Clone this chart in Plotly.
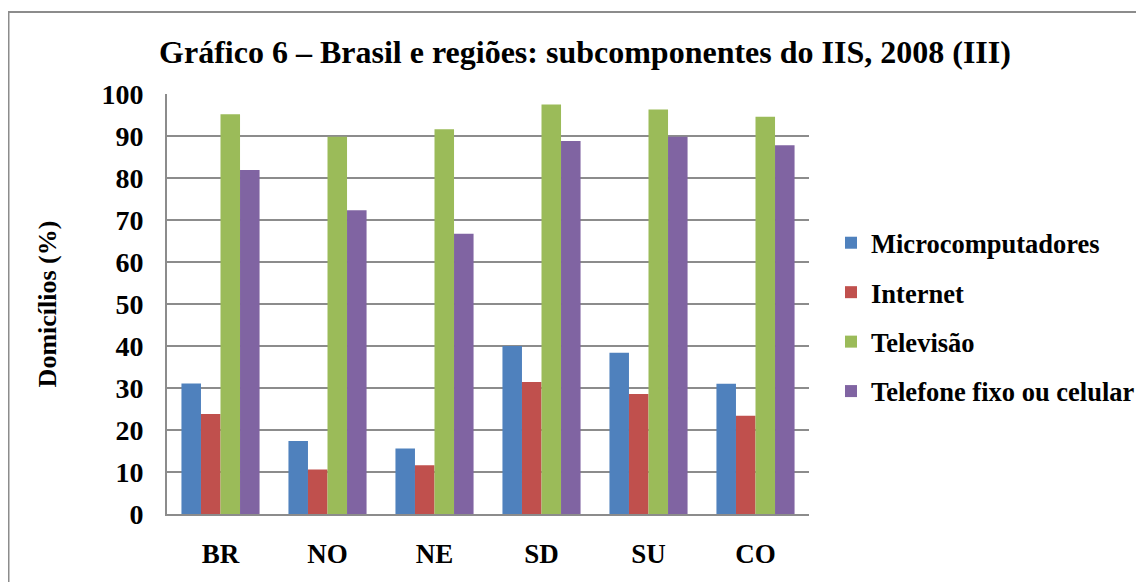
import plotly.graph_objects as go

categories = ["BR", "NO", "NE", "SD", "SU", "CO"]
microcomputadores = [31.1, 17.4, 15.6, 40.0, 38.4, 31.0]
internet = [23.8, 10.6, 11.6, 31.4, 28.6, 23.4]
televisao = [95.2, 89.8, 91.6, 97.5, 96.3, 94.6]
telefone = [81.9, 72.3, 66.7, 88.8, 89.8, 87.8]

series_names = ["Microcomputadores", "Internet", "Televisão", "Telefone fixo ou celular"]
series_values = [microcomputadores, internet, televisao, telefone]
colors = ["#4F81BD", "#C0504D", "#9BBB59", "#8064A2"]

FF = "Liberation Serif"

# page body has an 8px default margin; work in screen coordinates and shift
O = 8
W, H = 1144 - O, 582 - O
L, T = 167 - O, 94 - O
plot_right, plot_bottom = 809 - O, 514 - O
R, B = W - plot_right, H - plot_bottom
pw = W - L - R
ph = H - T - B

def px_x(sx):
    return (sx - O - L) / pw

def px_y(sy):
    return (plot_bottom - (sy - O)) / ph

def cx(sx):
    return (sx - O) / W

def cy(sy):
    return 1 - (sy - O) / H

fig = go.Figure()
for name, vals, col in zip(series_names, series_values, colors):
    fig.add_trace(go.Bar(x=categories, y=vals, name="<b>" + name + "</b>", marker_color=col,
                         marker_line_width=0, legendgroup=name))

fig.update_layout(
    width=W, height=H,
    margin=dict(l=L, r=R, t=T, b=B, autoexpand=False),
    paper_bgcolor="white", plot_bgcolor="white",
    barmode="group", bargap=0.27, bargroupgap=0,
    font=dict(family=FF, color="black"),
    title=dict(text="<b>Gráfico 6 – Brasil e regiões: subcomponentes do IIS, 2008 (III)</b>",
               x=cx(585), xref="container", xanchor="center",
               y=cy(52), yref="container", yanchor="middle",
               font=dict(size=32, family=FF, color="black")),
    legend=dict(x=cx(831), y=cy(317), xref="container", yref="container",
                xanchor="left", yanchor="middle",
                font=dict(size=26.5, family=FF, color="black"),
                tracegroupgap=12, itemwidth=30, bgcolor="rgba(0,0,0,0)"),
    showlegend=True,
)
fig.update_xaxes(showline=True, linecolor="#8c8c8c", linewidth=2, showgrid=False,
                 tickfont=dict(size=27, family=FF, color="black"),
                 ticklabelstandoff=15, tickprefix="<b>", ticksuffix="</b>")
fig.update_yaxes(range=[0, 100], dtick=10, showline=True, linecolor="#8c8c8c", linewidth=2,
                 showgrid=True, gridcolor="#8c8c8c", gridwidth=2, zeroline=False,
                 tickfont=dict(size=28, family=FF, color="black"),
                 tickprefix="<b>", ticksuffix="</b>", ticks="", ticklabelstandoff=16,
                 title=dict(text="<b>Domicílios (%)</b>", standoff=37,
                            font=dict(size=26, family=FF, color="black")))

fig.add_shape(type="rect", xref="paper", yref="paper",
              x0=px_x(8.5), x1=px_x(1170), y0=px_y(620), y1=px_y(12),
              line=dict(color="#8c8c8c", width=2), fillcolor="rgba(0,0,0,0)", layer="below")

fig.write_html("out.html")
